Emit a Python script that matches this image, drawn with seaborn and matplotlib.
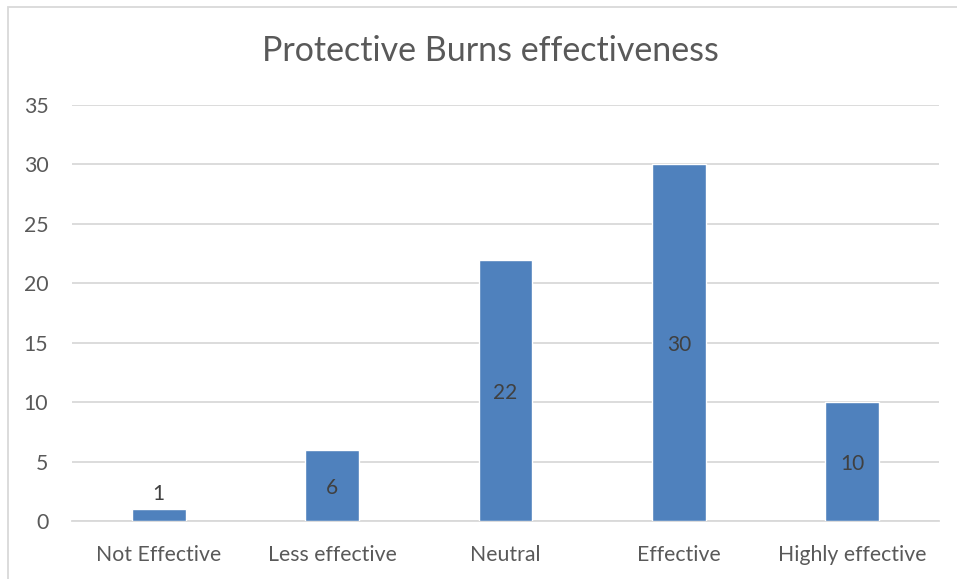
import matplotlib
matplotlib.use("Agg")
import matplotlib.pyplot as plt
import seaborn as sns
import pandas as pd
from matplotlib.patches import Rectangle

categories = ["Not Effective", "Less effective", "Neutral", "Effective", "Highly effective"]
counts = [1, 6, 22, 30, 10]
y_ticks = [0, 5, 10, 15, 20, 25, 30, 35]

sns.set_theme(style="white")
plt.rcParams["font.family"] = ["Lato", "DejaVu Sans"]

data = pd.DataFrame({"category": categories, "count": counts})

fig = plt.figure(figsize=(9.57, 5.79), dpi=100)
fig.set_facecolor("white")
ax = fig.add_axes([0.0752, 0.100, 0.906, 0.7187])

sns.barplot(data=data, x="category", y="count", color="#4F81BD",
            saturation=1, width=0.31, ax=ax, zorder=3)

ax.set_ylim(0, 35)
ax.set_yticks(y_ticks)
ax.set_xlim(-0.5, len(categories) - 0.5)
ax.yaxis.grid(True, color="#D9D9D9", linewidth=1.3, zorder=0)
ax.set_axisbelow(True)
for side in ["top", "right", "left"]:
    ax.spines[side].set_visible(False)
ax.spines["bottom"].set_color("#D9D9D9")
ax.spines["bottom"].set_linewidth(1.3)
ax.set_xlabel("")
ax.set_ylabel("")
ax.tick_params(axis="both", length=0, labelsize=15.3, colors="#595959")
ax.tick_params(axis="x", pad=17)
ax.tick_params(axis="y", pad=17)

for i, v in enumerate(counts):
    if v < 3:
        ax.text(i, v + 0.4, str(v), ha="center", va="bottom", fontsize=15, color="#404040")
    else:
        ax.text(i, v / 2 - 0.2, str(v), ha="center", va="center", fontsize=15, color="#404040")

fig.text(0.512, 0.912, "Protective Burns effectiveness", ha="center", va="center",
         fontsize=24.5, color="#595959")

fig.patches.append(Rectangle((8 / 957, -0.1), 1.2, 1 - 7 / 579 + 0.1,
                             transform=fig.transFigure, fill=False,
                             edgecolor="#D9D9D9", linewidth=1.3))

fig.savefig("out.png", dpi=100, facecolor="white")
